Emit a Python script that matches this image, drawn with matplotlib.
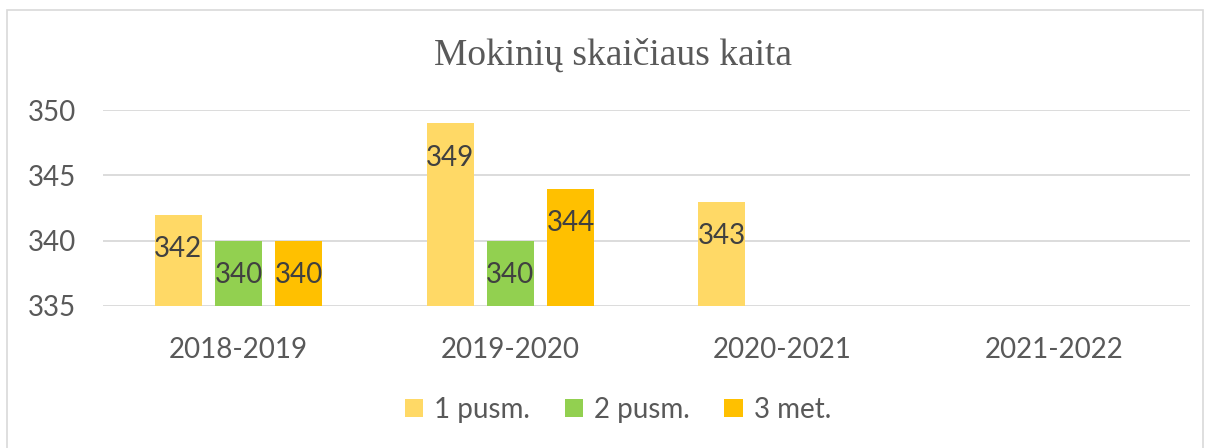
import numpy as np
import matplotlib.pyplot as plt
from matplotlib.patches import Rectangle

# data
years = ['2018-2019', '2019-2020', '2020-2021', '2021-2022']
series = ['1 pusm.', '2 pusm.', '3 met.']
pusm1 = [342, 349, 343, np.nan]
pusm2 = [340, 340, np.nan, np.nan]
met3 = [340, 344, np.nan, np.nan]
colors = ['#FFD966', '#92D050', '#FFC000']

plt.rcParams['font.family'] = ['Lato', 'DejaVu Sans']

fig = plt.figure(figsize=(12.07, 4.48), dpi=100)
ax = fig.add_axes([0.085, 0.317, 0.901, 0.437])

# chart border
fig.patches.append(Rectangle((7 / 1207, -0.01), 1196 / 1207, 1 - 10 / 448 + 0.01,
                             transform=fig.transFigure, fill=False,
                             edgecolor='#d9d9d9', linewidth=1.2))

x = np.arange(len(years))
w = 0.173
offs = [-0.222, 0, 0.222]
for vals, c, o, name in zip([pusm1, pusm2, met3], colors, offs, series):
    v = np.array(vals, dtype=float)
    ax.bar(x + o, v - 335, bottom=335, width=w, color=c, label=name, zorder=2)
    for xi, vi in zip(x + o, v):
        if not np.isnan(vi):
            ax.annotate(f'{int(vi)}', (xi, vi), xytext=(0, -25), textcoords='offset points',
                        ha='center', va='center', fontsize=20, color='#404040', zorder=3)

ax.set_xlim(-0.5, 3.5)
ax.set_ylim(335, 350)
ax.set_yticks([335, 340, 345, 350])
ax.set_xticks(x)
ax.set_xticklabels(years)
ax.tick_params(axis='both', length=0, labelsize=20, colors='#595959')
ax.tick_params(axis='y', pad=19)
ax.tick_params(axis='x', pad=22)
for s in ax.spines.values():
    s.set_visible(False)
ax.grid(axis='y', color='#d9d9d9', linewidth=1.3, zorder=0)
ax.set_axisbelow(True)

fig.text(0.508, 0.877, 'Mokinių skaičiaus kaita', ha='center', va='center',
         family='Liberation Serif', fontsize=27, color='#595959')

leg = fig.legend(loc='center', bbox_to_anchor=(0.512, 0.085), ncol=3, frameon=False,
                 fontsize=20, handlelength=0.65, handleheight=0.65, handletextpad=0.4,
                 columnspacing=1.25)
for t in leg.get_texts():
    t.set_color('#595959')

fig.savefig('out.png', dpi=100)
